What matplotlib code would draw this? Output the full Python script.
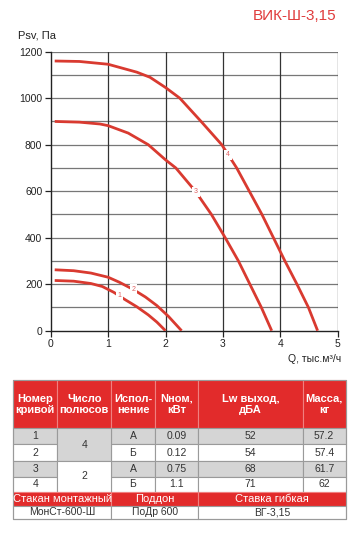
import matplotlib
matplotlib.use('Agg')
import matplotlib.pyplot as plt
from matplotlib.patches import Rectangle

plt.rcParams['font.family'] = ['Liberation Sans Narrow', 'Liberation Sans', 'DejaVu Sans']

# характеристики (Q, тыс.м3/ч ; Psv, Па)
q1 = [0.07, 0.4, 0.7, 0.9, 1.1, 1.3, 1.5, 1.7, 1.85, 2.0]
p1 = [216, 213, 203, 190, 165, 133, 103, 68, 37, 0]
q2 = [0.07, 0.4, 0.7, 1.0, 1.2, 1.44, 1.65, 1.85, 2.05, 2.28]
p2 = [262, 258, 248, 230, 208, 177, 145, 108, 62, 0]
q3 = [0.07, 0.5, 0.86, 1.0, 1.35, 1.7, 2.0, 2.18, 2.52, 2.8, 3.04, 3.27, 3.47, 3.67, 3.85]
p3 = [900, 897, 889, 882, 850, 800, 735, 700, 600, 500, 400, 300, 200, 100, 0]
q4 = [0.07, 0.5, 1.0, 1.5, 1.73, 2.0, 2.25, 2.62, 2.98, 3.24, 3.46, 3.68, 3.88, 4.08, 4.29, 4.49, 4.65]
p4 = [1160, 1158, 1146, 1112, 1090, 1046, 1000, 900, 800, 700, 600, 500, 400, 300, 200, 100, 0]
curves = [(q1, p1), (q2, p2), (q3, p3), (q4, p4)]
labels = ['1', '2', '3', '4']
label_pos = [(1.2, 150), (1.44, 177), (2.53, 597), (3.09, 756)]

# таблица
hdr = ['Номер\nкривой', 'Число\nполюсов', 'Испол-\nнение', 'Nном,\nкВт', 'Lw выход,\nдБА', 'Масса,\nкг']
nums = ['1', '2', '3', '4']
poles = ['4', '2']
versions = ['А', 'Б', 'А', 'Б']
power = ['0.09', '0.12', '0.75', '1.1']
lw = ['52', '54', '68', '71']
mass = ['57.2', '57.4', '61.7', '62']
acc_hdr = ['Стакан монтажный', 'Поддон', 'Ставка гибкая']
acc = ['МонСт-600-Ш', 'ПоДр 600', 'ВГ-3,15']

W, H = 353, 535
red = '#d93a30'
fig = plt.figure(figsize=(W / 100, H / 100), dpi=100)

ax = fig.add_axes([50.7 / W, 1 - 330.7 / H, (337.7 - 50.7) / W, (330.7 - 51.7) / H])
for (q, p), lab, (lx, ly) in zip(curves, labels, label_pos):
    ax.plot(q, p, color=red, lw=2.0, solid_capstyle='butt', solid_joinstyle='round', zorder=3)
    ax.text(lx, ly, lab, color='#e06060', fontsize=5, ha='center', va='center', zorder=4,
            bbox=dict(boxstyle='square,pad=0.25', fc='white', ec='none'))
ax.set_xlim(0, 5)
ax.set_ylim(0, 1200)
ax.set_xticks(range(0, 6))
ax.set_yticks(range(0, 1201, 200))
for y in range(100, 1201, 100):
    ax.axhline(y, color='#777777', lw=0.9, zorder=1)
for x in range(1, 6):
    ax.axvline(x, color='#333333', lw=0.9, zorder=1)
for s in ['top', 'right']:
    ax.spines[s].set_visible(False)
for s in ['left', 'bottom']:
    ax.spines[s].set_color('#222222')
    ax.spines[s].set_linewidth(1.0)
ax.tick_params(length=4, width=0.9, color='#222222', labelsize=7.5, pad=2, labelcolor='#222222')

fig.text(18 / W, 1 - 35 / H, 'Psv, Па', fontsize=8, color='#222222', va='center', ha='left')
fig.text(341 / W, 1 - 359 / H, 'Q, тыс.м³/ч', fontsize=7.5, color='#222222', va='center', ha='right')
fig.text(336 / W, 1 - 16 / H, 'ВИК-Ш-3,15', fontsize=11, color='#e03c3c', va='center', ha='right')

# таблица в пиксельных координатах
tx = fig.add_axes([0, 0, 1, 1])
tx.set_xlim(0, W)
tx.set_ylim(H, 0)
tx.axis('off')
cx = [13.3, 57.3, 111, 155, 198.3, 302.7, 345.7]
ry = [380, 428.3, 444, 461, 476.7, 491.7, 505.7, 519]
gray = '#d5d5d5'
hred = '#e22b2b'
edge = '#9a9a9a'

def cell(x0, x1, y0, y1, fc, txt, color='#333333', fs=7.5, bold=False, ec=edge):
    tx.add_patch(Rectangle((x0, y0), x1 - x0, y1 - y0, fc=fc, ec=ec, lw=0.8))
    tx.text((x0 + x1) / 2, (y0 + y1) / 2, txt, ha='center', va='center', fontsize=fs,
            color=color, fontweight='bold' if bold else 'normal', linespacing=1.15)

tx.add_patch(Rectangle((cx[0], ry[0]), cx[-1] - cx[0], ry[1] - ry[0], fc=hred, ec='none'))
for i, h in enumerate(hdr):
    cell(cx[i], cx[i + 1], ry[0], ry[1], hred, h, color='white', fs=8, bold=True, ec='#f08080')

cols = [nums, None, versions, power, lw, mass]
for r in range(4):
    fc = gray if r % 2 == 0 else 'white'
    for c, vals in enumerate(cols):
        if vals is None:
            continue
        cell(cx[c], cx[c + 1], ry[r + 1], ry[r + 2], fc, vals[r])
for k, v in enumerate(poles):
    cell(cx[1], cx[2], ry[1 + 2 * k], ry[3 + 2 * k], gray if k == 0 else 'white', v)

spans = [(cx[0], cx[2]), (cx[2], cx[4]), (cx[4], cx[6])]
tx.add_patch(Rectangle((cx[0], ry[5]), cx[-1] - cx[0], ry[6] - ry[5], fc=hred, ec='none'))
for (x0, x1), h, v in zip(spans, acc_hdr, acc):
    cell(x0, x1, ry[5], ry[6], hred, h, color='white', fs=8, ec='#f08080')
    cell(x0, x1, ry[6], ry[7], 'white', v)
tx.add_patch(Rectangle((cx[0], ry[0]), cx[-1] - cx[0], ry[-1] - ry[0], fc='none', ec=edge, lw=0.8))

fig.savefig('out.png', dpi=100)
